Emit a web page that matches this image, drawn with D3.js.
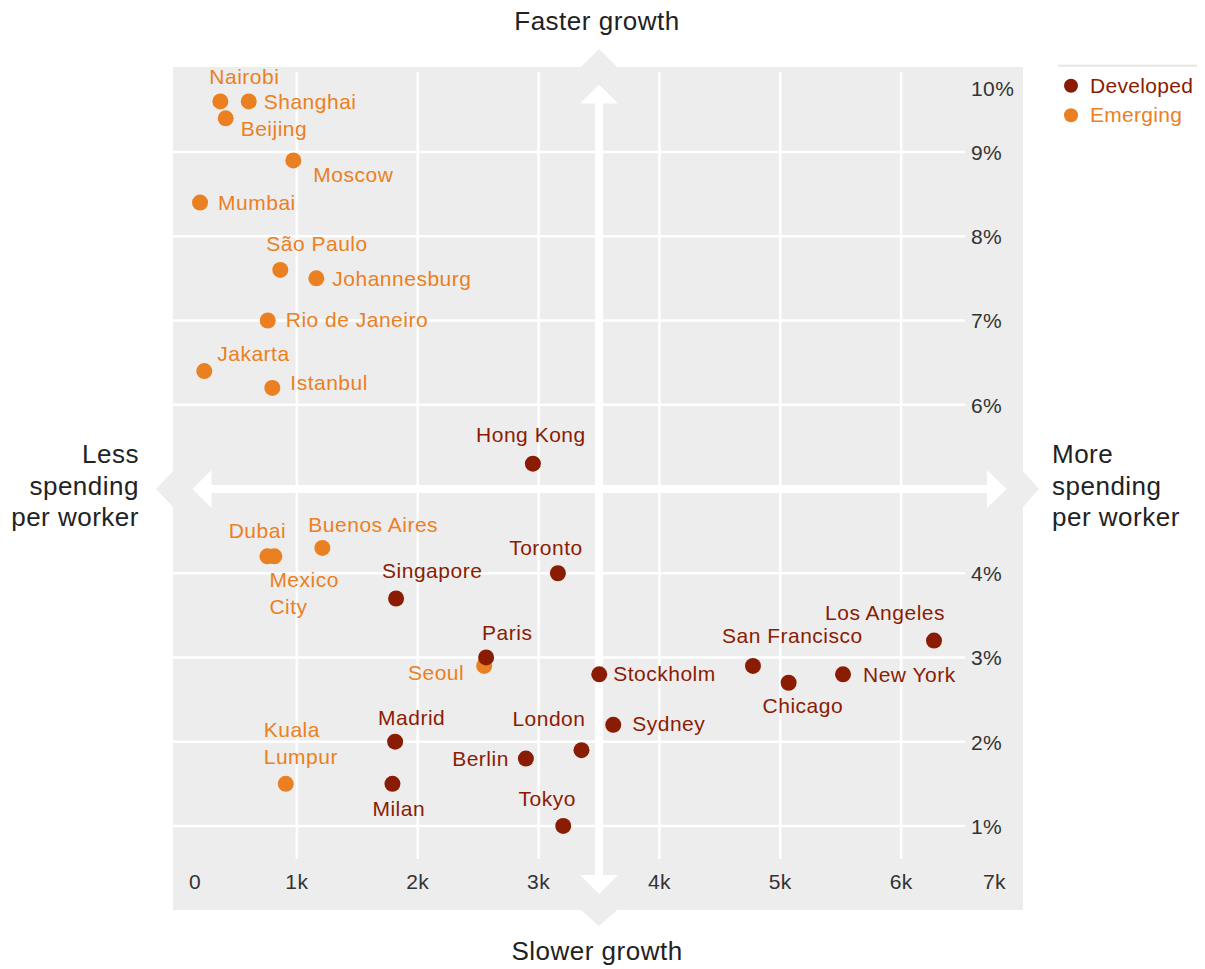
<!DOCTYPE html>
<html>
<head>
<meta charset="utf-8">
<script src="https://cdn.jsdelivr.net/npm/d3@7"></script>
<style>
  body { margin: 0; background: #fff; }
  svg { display: block; font-family: "Liberation Sans", Arial, sans-serif; }
</style>
</head>
<body>
<svg id="chart" width="1205" height="969"></svg>
<script>
// spending per worker (US$) and annual growth (%)
const emergingCities = ["Nairobi", "Shanghai", "Beijing", "Moscow", "Mumbai", "São Paulo", "Johannesburg",
  "Rio de Janeiro", "Jakarta", "Istanbul", "Dubai", "Mexico City", "Buenos Aires", "Seoul", "Kuala Lumpur"];
const emergingSpend = [367, 602, 411, 971, 199, 863, 1161, 759, 234, 797, 756, 814, 1211, 2550, 908];
const emergingGrowth = [9.6, 9.6, 9.4, 8.9, 8.4, 7.6, 7.5, 7.0, 6.4, 6.2, 4.2, 4.2, 4.3, 2.9, 1.5];

const developedCities = ["Hong Kong", "Toronto", "Singapore", "Paris", "Stockholm", "Madrid", "London",
  "Berlin", "Milan", "Tokyo", "Sydney", "San Francisco", "Chicago", "New York", "Los Angeles"];
const developedSpend = [2953, 3160, 1821, 2566, 3502, 1813, 3355, 2895, 1791, 3204, 3618, 4774, 5069, 5519, 6272];
const developedGrowth = [5.3, 4.0, 3.7, 3.0, 2.8, 2.0, 1.9, 1.8, 1.5, 1.0, 2.2, 2.9, 2.7, 2.8, 3.2];

const xTicks = [0, 1000, 2000, 3000, 4000, 5000, 6000, 7000];
const xTickLabels = ["0", "1k", "2k", "3k", "4k", "5k", "6k", "7k"];
const yTicks = [1, 2, 3, 4, 6, 7, 8, 9, 10];
const yTickLabels = ["1%", "2%", "3%", "4%", "6%", "7%", "8%", "9%", "10%"];
const legendLabels = ["Developed", "Emerging"];

// label placement relative to the dot: [dx, dy, anchor]
const labelPos = {
  "Nairobi": [-11, -17, "start"], "Shanghai": [15, 8, "start"], "Beijing": [15, 18, "start"],
  "Moscow": [20, 22, "start"], "Mumbai": [18, 7, "start"], "São Paulo": [-14, -19, "start"],
  "Johannesburg": [16, 8, "start"], "Rio de Janeiro": [18, 7, "start"], "Jakarta": [13, -10, "start"],
  "Istanbul": [18, 2, "start"], "Dubai": [-10, -18, "middle"], "Mexico City": [-5, 31, "start"],
  "Buenos Aires": [-14, -16, "start"], "Seoul": [-20, 14, "end"], "Kuala Lumpur": [-22, -47, "start"],
  "Hong Kong": [-2, -22, "middle"], "Toronto": [-12, -18, "middle"], "Singapore": [-14, -20, "start"],
  "Paris": [-4, -17, "start"], "Stockholm": [14, 7, "start"], "Madrid": [-17, -17, "start"],
  "London": [4, -24, "end"], "Berlin": [-17, 7, "end"], "Milan": [-20, 32, "start"],
  "Tokyo": [-16, -20, "middle"], "Sydney": [19, 6, "start"], "San Francisco": [-31, -23, "start"],
  "Chicago": [-26, 30, "start"], "New York": [20, 8, "start"], "Los Angeles": [11, -21, "end"]
};
const wrapped = ["Mexico City", "Kuala Lumpur"];

const colors = { Developed: "#8a1c04", Emerging: "#eb8022" };
const panel = { left: 173, right: 1023, top: 67, bottom: 910 };

const svg = d3.select("#chart");

const x = d3.scaleLinear().domain([0, 7000]).range([176, 1022]);
const y = d3.scaleLinear().domain([0, 10]).range([910.2, 67.75]);

// gray panel plus chevrons poking out on each side
const g_bg = svg.append("g");
g_bg.append("rect")
  .attr("x", panel.left).attr("y", panel.top)
  .attr("width", panel.right - panel.left).attr("height", panel.bottom - panel.top)
  .attr("fill", "#ededed");

const ax = x(3500), ay = y(5);
const chevrons = [
  [[ax - 18, panel.top], [ax, panel.top - 18], [ax + 18, panel.top]],
  [[ax - 18, panel.bottom], [ax, panel.bottom + 16], [ax + 18, panel.bottom]],
  [[panel.left, ay - 18], [panel.left - 17, ay], [panel.left, ay + 18]],
  [[panel.right, ay - 18], [panel.right + 16, ay], [panel.right, ay + 18]]
];
g_bg.selectAll(".chevron").data(chevrons).join("path")
  .attr("class", "chevron")
  .attr("d", d => d3.line()(d) + "Z")
  .attr("fill", "#ededed");

// grid
const g_grid = svg.append("g");
g_grid.selectAll(".vgrid").data(xTicks.slice(1, -1)).join("line")
  .attr("class", "vgrid")
  .attr("x1", d => x(d)).attr("x2", d => x(d))
  .attr("y1", 72).attr("y2", 859)
  .attr("stroke", "#fff").attr("stroke-width", 2.5);
g_grid.selectAll(".hgrid").data(yTicks.filter(d => d < 10)).join("line")
  .attr("class", "hgrid")
  .attr("x1", panel.left).attr("x2", 965)
  .attr("y1", d => y(d)).attr("y2", d => y(d))
  .attr("stroke", "#fff").attr("stroke-width", 2.5);

// white cross arrows
const g_arrows = svg.append("g").attr("fill", "#fff");
g_arrows.append("rect").attr("x", ax - 4).attr("y", 100).attr("width", 8).attr("height", 778);
g_arrows.append("rect").attr("x", 208).attr("y", ay - 4).attr("width", 782).attr("height", 8);
const heads = [
  [[ax - 19, 103.5], [ax, 84.5], [ax + 19, 103.5]],
  [[ax - 19, 875], [ax, 894], [ax + 19, 875]],
  [[211.5, ay - 19], [192.5, ay], [211.5, ay + 19]],
  [[987, ay - 19], [1006.5, ay], [987, ay + 19]]
];
g_arrows.selectAll(".head").data(heads).join("path")
  .attr("class", "head")
  .attr("d", d => d3.line()(d) + "Z");

// tick labels
svg.selectAll(".x_tick").data(xTicks).join("text")
  .attr("class", "x_tick")
  .attr("x", (d, i) => i === 0 ? x(d) + 13 : i === xTicks.length - 1 ? x(d) - 16 : x(d))
  .attr("y", 889)
  .attr("text-anchor", (d, i) => i === 0 ? "start" : i === xTicks.length - 1 ? "end" : "middle")
  .attr("font-size", "21px").attr("letter-spacing", "0.4px").attr("fill", "#333")
  .text((d, i) => xTickLabels[i]);

svg.selectAll(".y_tick").data(yTicks).join("text")
  .attr("class", "y_tick")
  .attr("x", 971)
  .attr("y", d => d === 10 ? y(d) + 28 : y(d) + 8)
  .attr("font-size", "21px").attr("letter-spacing", "0.4px").attr("fill", "#333")
  .text((d, i) => yTickLabels[i]);

// axis direction labels
const titles = [
  { t: ["Faster growth"], x: 597, y: 30, anchor: "middle" },
  { t: ["Slower growth"], x: 597, y: 960, anchor: "middle" },
  { t: ["Less", "spending", "per worker"], x: 139, y: 463, anchor: "end" },
  { t: ["More", "spending", "per worker"], x: 1052, y: 463, anchor: "start" }
];
titles.forEach(d => {
  const txt = svg.append("text")
    .attr("x", d.x).attr("y", d.y)
    .attr("text-anchor", d.anchor)
    .attr("font-size", "26px").attr("letter-spacing", "0.5px").attr("fill", "#222");
  d.t.forEach((line, i) => {
    txt.append("tspan").attr("x", d.x).attr("dy", i === 0 ? 0 : 31.5).text(line);
  });
});

// points
function series(cities, spend, growth, group) {
  return cities.map((c, i) => ({ name: c, spend: spend[i], growth: growth[i], group: group }));
}
const points = series(emergingCities, emergingSpend, emergingGrowth, "Emerging")
  .concat(series(developedCities, developedSpend, developedGrowth, "Developed"));

const g_points = svg.append("g");
g_points.selectAll(".dot").data(points).join("circle")
  .attr("class", "dot")
  .attr("cx", d => x(d.spend))
  .attr("cy", d => y(d.growth))
  .attr("r", 8)
  .attr("fill", d => colors[d.group]);

const labels = g_points.selectAll(".city_label").data(points).join("text")
  .attr("class", "city_label")
  .attr("x", d => x(d.spend) + labelPos[d.name][0])
  .attr("y", d => y(d.growth) + labelPos[d.name][1])
  .attr("text-anchor", d => labelPos[d.name][2])
  .attr("font-size", "21px")
  .attr("letter-spacing", "0.5px")
  .attr("fill", d => colors[d.group]);

labels.each(function (d) {
  const parts = wrapped.includes(d.name) ? d.name.split(" ") : [d.name];
  const el = d3.select(this);
  parts.forEach((p, i) => {
    el.append("tspan")
      .attr("x", x(d.spend) + labelPos[d.name][0])
      .attr("dy", i === 0 ? 0 : 27)
      .text(p);
  });
});

// legend
const g_legend = svg.append("g");
g_legend.append("line")
  .attr("x1", 1058).attr("x2", 1197).attr("y1", 65.7).attr("y2", 65.7)
  .attr("stroke", "#e8e4e0").attr("stroke-width", 2);
const legendItem = g_legend.selectAll(".legend_item").data(legendLabels).join("g")
  .attr("class", "legend_item")
  .attr("transform", (d, i) => `translate(1071, ${85.7 + i * 29.5})`);
legendItem.append("circle").attr("r", 7).attr("fill", d => colors[d]);
legendItem.append("text")
  .attr("x", 19).attr("y", 7)
  .attr("font-size", "21px")
  .attr("letter-spacing", "0.3px")
  .attr("fill", d => colors[d])
  .text(d => d);
</script>
</body>
</html>
